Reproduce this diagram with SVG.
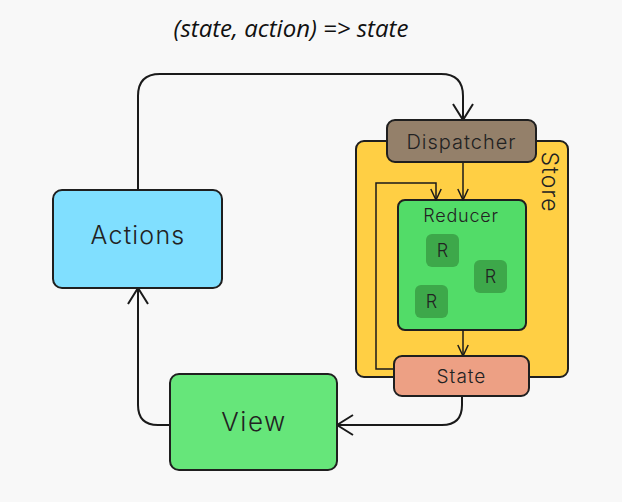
<svg xmlns="http://www.w3.org/2000/svg" width="622" height="502" viewBox="0 0 622 502">
<defs>
<marker id="arr" viewBox="0 0 18 22" refX="17" refY="11" markerWidth="18" markerHeight="22" markerUnits="userSpaceOnUse" orient="auto">
<path d="M1,1 L17,11 L1,21" fill="none" stroke="#1a1a1a" stroke-width="2"/>
</marker>
<marker id="arrs" viewBox="0 0 13 12" refX="12" refY="6" markerWidth="13" markerHeight="12" markerUnits="userSpaceOnUse" orient="auto">
<path d="M1,0.8 L12,6 L1,11.2" fill="none" stroke="#1a1a1a" stroke-width="1.5"/>
</marker>
</defs>
<style>
.box{stroke:#1f1f1f;stroke-width:2}
.lbl{font-family:"Inter","Lato","DejaVu Sans",sans-serif;font-weight:300;fill:#222;text-anchor:middle}
.conn{fill:none;stroke:#1a1a1a;stroke-width:2}
.thin{fill:none;stroke:#1a1a1a;stroke-width:1.5}
.r{fill:#3da84a}
</style>
<rect width="622" height="502" fill="#f8f8f8"/>
<text x="291" y="37" font-family="'Open Sans','Noto Sans',sans-serif" font-style="italic" font-size="24" fill="#111" text-anchor="middle">(state, action) =&gt; state</text>

<g id="store">
<rect x="356" y="141" width="212" height="236" rx="8" fill="#ffcf44" class="box"/>
<text class="lbl" transform="translate(548,182) rotate(90)" font-size="23" dominant-baseline="middle" letter-spacing="1">Store</text>
</g>

<g id="reducer">
<rect x="398" y="200" width="128" height="130" rx="7" fill="#52dc68" class="box"/>
<text class="lbl" x="461" y="222" font-size="18" letter-spacing="0.8">Reducer</text>
<rect class="r" x="426" y="234" width="33" height="33" rx="6"/>
<text class="lbl" x="442.5" y="257" font-size="18">R</text>
<rect class="r" x="474" y="260" width="33" height="33" rx="6"/>
<text class="lbl" x="490.5" y="283" font-size="18">R</text>
<rect class="r" x="415" y="285" width="33" height="33" rx="6"/>
<text class="lbl" x="431.5" y="308" font-size="18">R</text>
</g>

<g id="connectors">
<path class="conn" d="M138,190 V96 Q138,74 160,74 H441 Q463,74 463,96 V120" marker-end="url(#arr)"/>
<path class="thin" d="M463,163 V200" marker-end="url(#arrs)"/>
<path class="thin" d="M463,330 V356" marker-end="url(#arrs)"/>
<path class="thin" d="M394,369 H376 V183 H436 V200" marker-end="url(#arrs)"/>
<path class="conn" d="M462,396 V405 Q462,425 442,425 H337" marker-end="url(#arr)"/>
<path class="conn" d="M170,425 H158 Q138,425 138,405 V288" marker-end="url(#arr)"/>
</g>

<g id="dispatcher">
<rect x="387" y="120" width="149" height="42" rx="8" fill="#94806a" class="box"/>
<text class="lbl" x="461.5" y="149" font-size="20" letter-spacing="1">Dispatcher</text>
</g>

<g id="state">
<rect x="394" y="356" width="135" height="40" rx="8" fill="#eda084" class="box"/>
<text class="lbl" x="461.5" y="383" font-size="19" letter-spacing="1">State</text>
</g>

<g id="actions">
<rect x="53" y="190" width="169" height="98" rx="9" fill="#80dfff" class="box"/>
<text class="lbl" x="138" y="244" font-size="25" letter-spacing="1.2">Actions</text>
</g>

<g id="view">
<rect x="170" y="374" width="167" height="96" rx="9" fill="#66e67a" class="box"/>
<text class="lbl" x="254" y="431" font-size="26" letter-spacing="1.5">View</text>
</g>
</svg>
